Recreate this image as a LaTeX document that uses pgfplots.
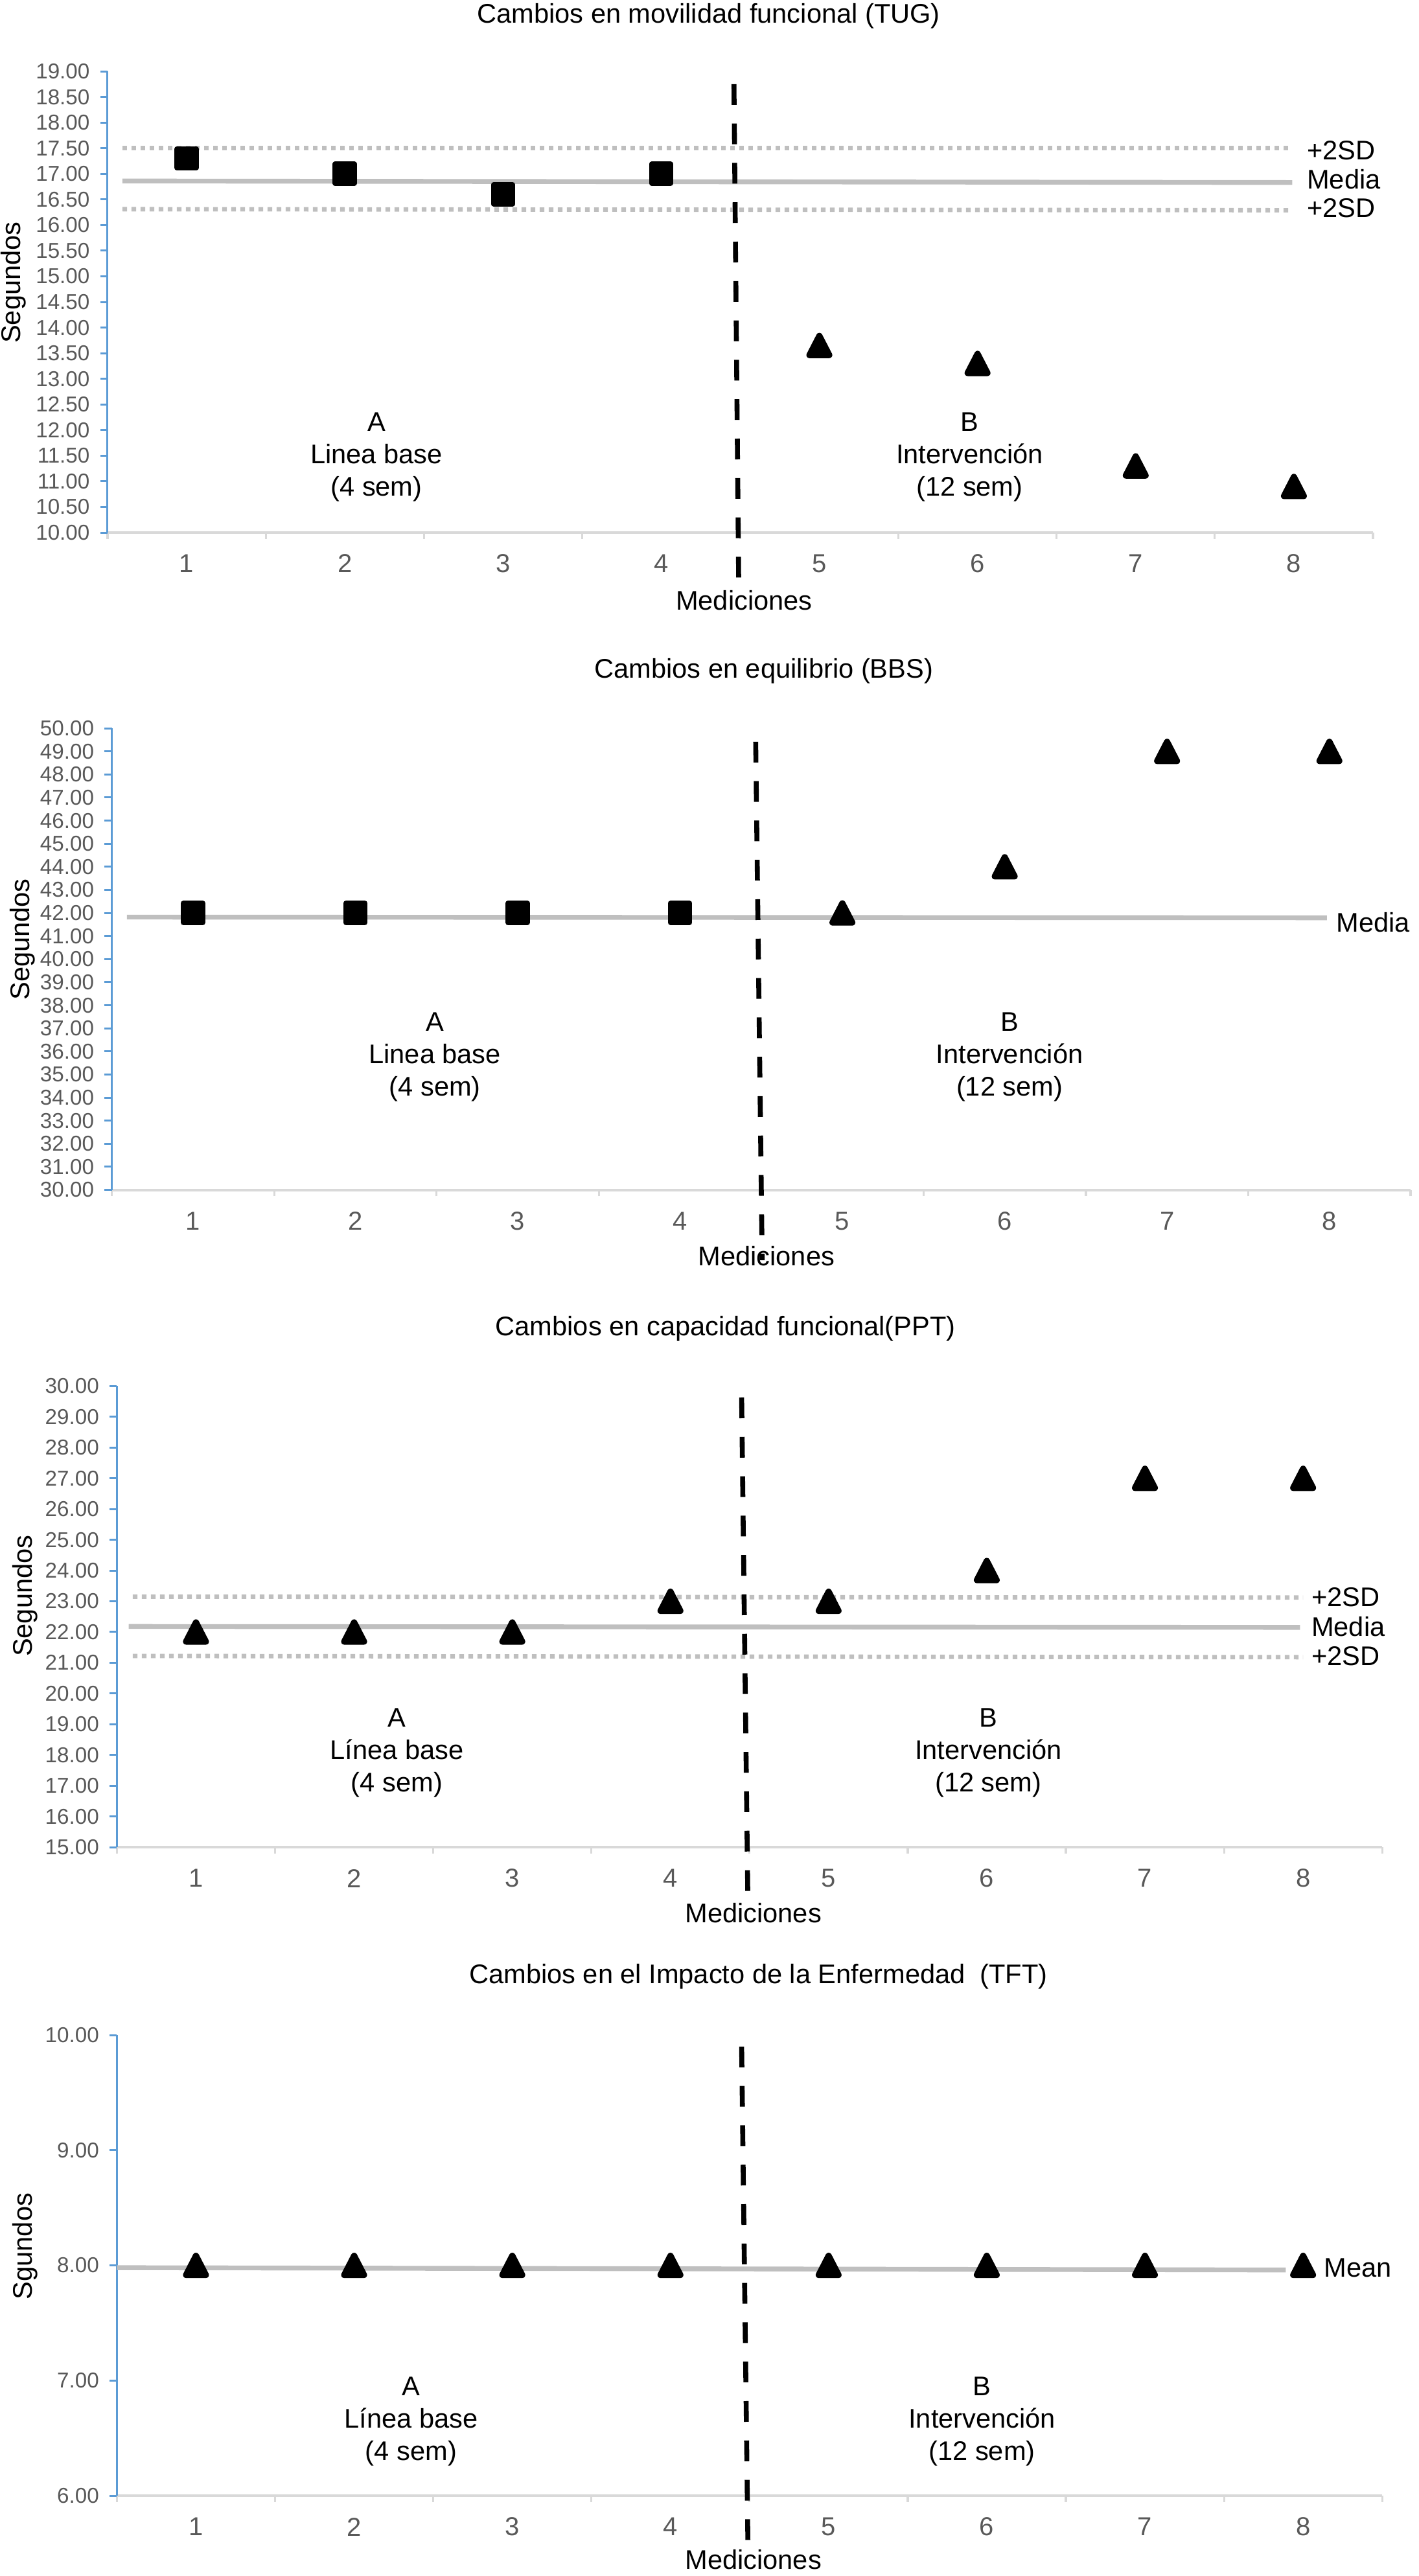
\documentclass[border=0pt]{standalone}
\usepackage{fontspec}
\setmainfont{Liberation Sans}
\usepackage{pgfplots}
\pgfplotsset{compat=1.18}
\definecolor{tickgray}{RGB}{89,89,89}
\definecolor{axblue}{RGB}{91,155,213}
\definecolor{axgray}{RGB}{217,217,217}
\definecolor{meangray}{RGB}{191,191,191}
\newcommand\lab{\fontsize{10.4}{12.5}\selectfont}
\pgfplotsset{
  sscd/.style={
    scale only axis,
    axis x line*=bottom, axis y line*=left,
    x axis line style={draw=axgray, line width=1pt, -},
    y axis line style={draw=axblue, line width=0.75pt, -},
    xmin=0.5, xmax=8.5,
    xtick={1,...,8},
    minor xtick={0.5,1.5,...,8.5},
    major x tick style={draw=none},
    minor x tick style={draw=axgray, line width=0.8pt},
    minor tick length=2.4pt,
    y tick style={draw=axblue, line width=0.75pt},
    major tick length=2.8pt,
    tick align=outside,
    ticklabel style={text=tickgray},
    /pgf/number format/assume math mode=true,
    yticklabel style={font=\fontsize{8.3}{10}\selectfont, anchor=east, inner sep=0pt, xshift=-3.9pt,
      /pgf/number format/.cd, fixed, fixed zerofill, precision=2},
    xticklabel style={font=\fontsize{10}{12}\selectfont, anchor=center, inner sep=0pt, yshift=-9.2pt},
    clip=false,
  },
  meanl/.style={no marks, meangray, line width=1.85pt},
  sdl/.style={no marks, meangray, line width=1.7pt, dash pattern=on 1.8pt off 1.7pt},
  phase/.style={no marks, black, line width=1.9pt, dash pattern=on 8pt off 7.2pt},
  sq/.style={only marks, mark=square*, mark size=3.7pt,
    mark options={fill=black, draw=black, line width=2pt, line join=round}},
  tri/.style={only marks, mark=triangle*, mark size=4.4pt,
    mark options={fill=black, draw=black, line width=2.4pt, line join=round, yshift=-1.23pt, yscale=1.12}},
}
\begin{document}
\begin{tikzpicture}
\useasboundingbox (0,0) rectangle (547.5pt,-994pt);

% ---------- Panel 1: TUG ----------
\begin{axis}[sscd, at={(41.5pt,-205.5pt)}, anchor=south west,
  width=488.25pt, height=178pt, ymin=10, ymax=19, ytick={10,10.5,...,19}]
\addplot[meanl] coordinates {(0.594,16.86) (7.99,16.83)};
\addplot[sq] coordinates {(1,17.3) (2,17.0) (3,16.6) (4,17.0)};
\addplot[tri] coordinates {(5,13.65) (6,13.3) (7,11.3) (8,10.9)};
\addplot[sdl] coordinates {(0.594,17.5) (7.99,17.5)};
\addplot[sdl] coordinates {(0.594,16.31) (7.99,16.29)};
\addplot[phase] coordinates {(4.46,18.75) (4.49,9.05)};
\node[font=\lab] at (axis description cs:0.475,1.12) {Cambios en movilidad funcional (TUG)};
\node[font=\lab] at (axis description cs:0.503,-0.1475) {Mediciones};
\node[font=\lab, rotate=90] at (axis description cs:-0.0742,0.542) {Segundos};
\node[font=\lab, align=center] at (axis cs:2.2,11.47) {A\\Linea base\\(4 sem)};
\node[font=\lab, align=center] at (axis cs:5.95,11.47) {B\\Intervención\\(12 sem)};
\node[font=\lab, anchor=west, inner sep=0pt] at (axis cs:8.08,17.46) {+2SD};
\node[font=\lab, anchor=west, inner sep=0pt] at (axis cs:8.08,16.90) {Media};
\node[font=\lab, anchor=west, inner sep=0pt] at (axis cs:8.08,16.33) {+2SD};
\end{axis}

% ---------- Panel 2: BBS ----------
\begin{axis}[sscd, at={(43.15pt,-459.125pt)}, anchor=south west,
  width=501.1pt, height=178.1pt, ymin=30, ymax=50, ytick={30,31,...,50}]
\addplot[meanl] coordinates {(0.593,41.82) (7.985,41.79)};
\addplot[sq] coordinates {(1,42) (2,42) (3,42) (4,42)};
\addplot[tri] coordinates {(5,42) (6,44) (7,49) (8,49)};
\addplot[phase] coordinates {(4.466,49.42) (4.506,26.95)};
\node[font=\lab] at (axis description cs:0.502,1.1235) {Cambios en equilibrio (BBS)};
\node[font=\lab] at (axis description cs:0.504,-0.143) {Mediciones};
\node[font=\lab, rotate=90] at (axis description cs:-0.0687,0.5425) {Segundos};
\node[font=\lab, align=center] at (axis cs:2.49,35.76) {A\\Linea base\\(4 sem)};
\node[font=\lab, align=center] at (axis cs:6.03,35.76) {B\\Intervención\\(12 sem)};
\node[font=\lab, anchor=west, inner sep=0pt] at (axis cs:8.04,41.6) {Media};
\end{axis}

% ---------- Panel 3: PPT ----------
\begin{axis}[sscd, at={(45.1pt,-712.75pt)}, anchor=south west,
  width=488.2pt, height=177.9pt, ymin=15, ymax=30, ytick={15,16,...,30}]
\addplot[meanl] coordinates {(0.575,22.18) (7.98,22.15)};
\addplot[tri] coordinates {(1,22) (2,22) (3,22) (4,23) (5,23) (6,24) (7,27) (8,27)};
\addplot[sdl] coordinates {(0.6,23.15) (8.0,23.12)};
\addplot[sdl] coordinates {(0.6,21.22) (8.0,21.18)};
\addplot[phase] coordinates {(4.45,29.63) (4.49,13.02)};
\node[font=\lab] at (axis description cs:0.481,1.124) {Cambios en capacidad funcional(PPT)};
\node[font=\lab] at (axis description cs:0.503,-0.1433) {Mediciones};
\node[font=\lab, rotate=90] at (axis description cs:-0.0726,0.545) {Segundos};
\node[font=\lab, align=center] at (axis cs:2.27,18.06) {A\\Línea base\\(4 sem)};
\node[font=\lab, align=center] at (axis cs:6.01,18.06) {B\\Intervención\\(12 sem)};
\node[font=\lab, anchor=west, inner sep=0pt] at (axis cs:8.05,23.14) {+2SD};
\node[font=\lab, anchor=west, inner sep=0pt] at (axis cs:8.05,22.17) {Media};
\node[font=\lab, anchor=west, inner sep=0pt] at (axis cs:8.05,21.21) {+2SD};
\end{axis}

% ---------- Panel 4: TFT ----------
\begin{axis}[sscd, at={(45.1pt,-963pt)}, anchor=south west,
  width=488.2pt, height=177.75pt, ymin=6, ymax=10, ytick={6,7,...,10}]
\addplot[meanl] coordinates {(0.5,7.98) (7.89,7.96)};
\addplot[tri] coordinates {(1,8) (2,8) (3,8) (4,8) (5,8) (6,8) (7,8) (8,8)};
\addplot[phase] coordinates {(4.45,9.90) (4.49,5.55)};
\node[font=\lab] at (axis description cs:0.507,1.1266) {Cambios en el Impacto de la Enfermedad\ \ (TFT)};
\node[font=\lab] at (axis description cs:0.503,-0.139) {Mediciones};
\node[font=\lab, rotate=90] at (axis description cs:-0.0726,0.5415) {Sgundos};
\node[font=\lab, align=center] at (axis cs:2.36,6.646) {A\\Línea base\\(4 sem)};
\node[font=\lab, align=center] at (axis cs:5.97,6.646) {B\\Intervención\\(12 sem)};
\node[font=\lab, anchor=west, inner sep=0pt] at (axis cs:8.13,7.98) {Mean};
\end{axis}
\end{tikzpicture}
\end{document}
